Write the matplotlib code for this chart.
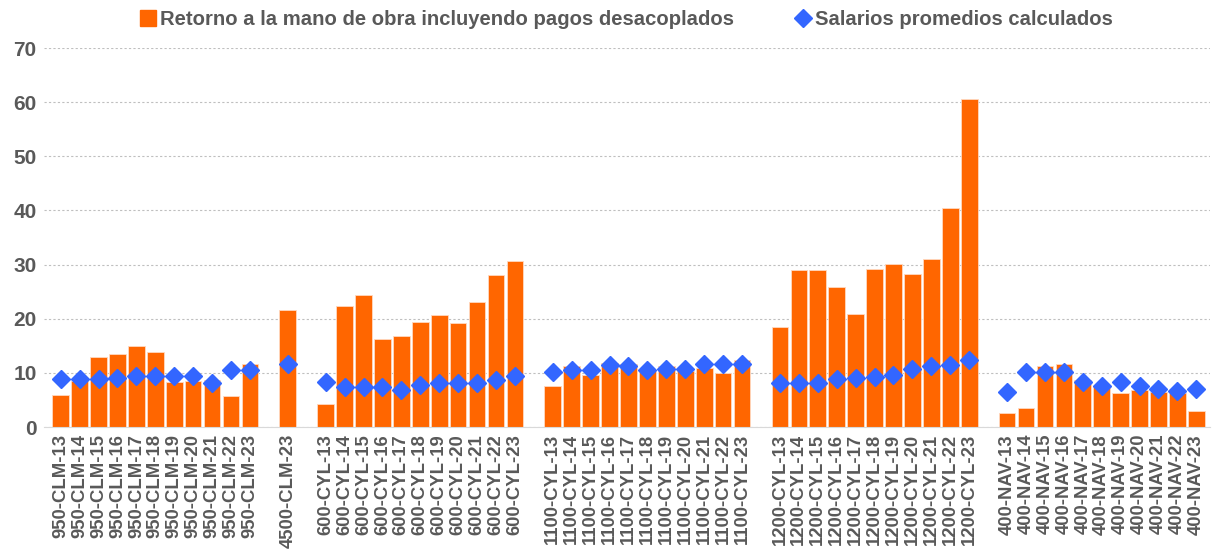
import numpy as np
import matplotlib.pyplot as plt
from matplotlib.lines import Line2D

plt.rcParams['font.family'] = ['Liberation Sans', 'DejaVu Sans']

# grupos de explotaciones
grupos = ["950-CLM", "4500-CLM", "600-CYL", "1100-CYL", "1200-CYL", "400-NAV"]
anios = {
    "950-CLM": list(range(13, 24)),
    "4500-CLM": [23],
    "600-CYL": list(range(13, 24)),
    "1100-CYL": list(range(13, 24)),
    "1200-CYL": list(range(13, 24)),
    "400-NAV": list(range(13, 24)),
}

# Retorno a la mano de obra incluyendo pagos desacoplados
retorno = {
    "950-CLM": [6.0, 8.5, 13.0, 13.4, 14.9, 13.9, 8.3, 8.5, 8.7, 5.7, 11.6],
    "4500-CLM": [21.6],
    "600-CYL": [4.2, 22.4, 24.3, 16.2, 16.8, 19.4, 20.7, 19.2, 23.1, 28.0, 30.6],
    "1100-CYL": [7.6, 11.3, 9.6, 11.9, 11.6, 10.4, 11.2, 10.4, 10.9, 10.0, 12.4],
    "1200-CYL": [18.4, 29.0, 29.0, 25.8, 20.9, 29.1, 30.1, 28.2, 31.1, 40.4, 60.5],
    "400-NAV": [2.65, 3.45, 11.3, 11.6, 8.7, 7.6, 6.2, 6.8, 6.5, 6.2, 3.0],
}

# Salarios promedios calculados
salarios = {
    "950-CLM": [8.9, 8.9, 8.9, 9.0, 9.4, 9.4, 9.4, 9.4, 8.1, 10.5, 10.5],
    "4500-CLM": [11.6],
    "600-CYL": [8.4, 7.3, 7.3, 7.3, 6.9, 7.8, 8.1, 8.1, 8.2, 8.6, 9.4],
    "1100-CYL": [10.1, 10.5, 10.5, 11.4, 11.2, 10.6, 10.8, 10.8, 11.6, 11.6, 11.6],
    "1200-CYL": [8.2, 8.2, 8.2, 8.8, 9.0, 9.2, 9.6, 10.8, 11.2, 11.4, 12.4],
    "400-NAV": [6.5, 10.1, 10.1, 10.1, 8.4, 7.6, 8.3, 7.6, 7.1, 6.7, 7.1],
}

naranja = "#FF6600"
azul = "#3366FF"
gris = "#595959"

# posiciones con un hueco entre grupos
pos, etiquetas, ret, sal = [], [], [], []
x = 0
for g in grupos:
    for a, r, s in zip(anios[g], retorno[g], salarios[g]):
        pos.append(x)
        etiquetas.append(f"{g}-{a}")
        ret.append(r)
        sal.append(s)
        x += 1
    x += 1
pos = np.array(pos)

fig = plt.figure(figsize=(12.12, 5.5), dpi=100)
ax = fig.add_axes([0.036, 0.2236, 0.962, 0.6891])

ax.bar(pos, ret, width=0.88, color=naranja, edgecolor="#FFD9C0", linewidth=0.6, zorder=2)
ax.plot(pos, sal, linestyle="none", marker="D", markersize=9, color=azul, zorder=3)

ax.set_ylim(0, 70)
ax.set_xlim(-0.9, pos[-1] + 0.7)
ax.yaxis.grid(True, linestyle=(0, (2, 2)), color="#BFBFBF", linewidth=0.8, zorder=0)
for s in ["top", "right", "left"]:
    ax.spines[s].set_visible(False)
ax.spines["bottom"].set_color("#D9D9D9")
ax.tick_params(axis="both", length=0)
ax.set_yticks(range(0, 71, 10))
ax.set_yticklabels([str(v) for v in range(0, 71, 10)], fontsize=15, fontweight="bold", color=gris)
ax.set_xticks(pos)
ax.set_xticklabels(etiquetas, rotation=90, fontsize=13.3, fontweight="bold", color=gris)
ax.tick_params(axis="y", pad=5)
ax.tick_params(axis="x", pad=5)

handles = [
    Line2D([], [], linestyle="none", marker="s", markersize=11, color=naranja),
    Line2D([], [], linestyle="none", marker="D", markersize=9.5, color=azul),
]
fig.legend(handles,
           ["Retorno a la mano de obra incluyendo pagos desacoplados", "Salarios promedios calculados"],
           loc="upper center", bbox_to_anchor=(0.515, 1.015), ncol=2, frameon=False,
           prop={"size": 14.6, "weight": "bold"}, labelcolor=gris,
           handletextpad=0.0, columnspacing=2.8, handlelength=1.2)

fig.savefig("out.png", dpi=100)
